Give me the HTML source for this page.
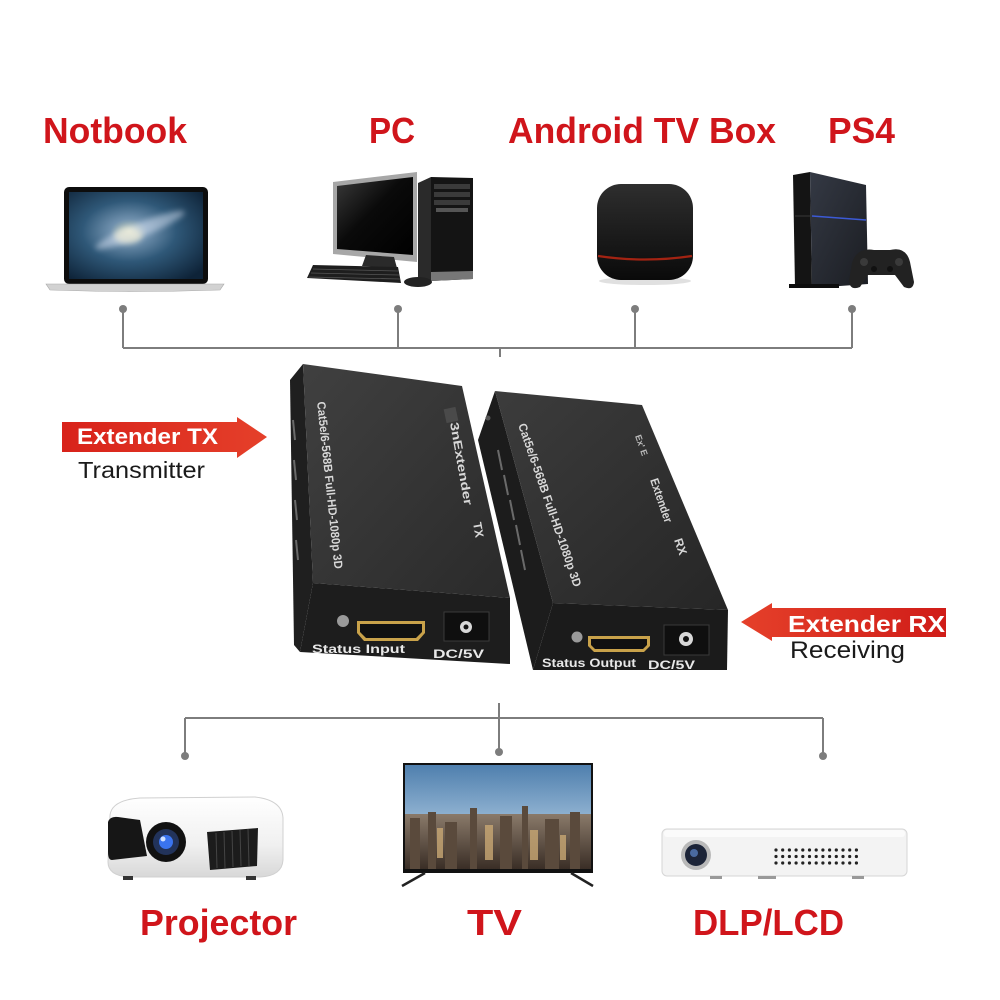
<!DOCTYPE html>
<html><head><meta charset="utf-8"><style>
html,body{margin:0;padding:0;background:#fff;}
svg{display:block;}
</style></head><body>
<svg width="1000" height="1000" viewBox="0 0 1000 1000" xmlns="http://www.w3.org/2000/svg" font-family="'Liberation Sans', Arial, sans-serif">
<defs>
  <radialGradient id="gal" cx="45%" cy="45%" r="70%">
    <stop offset="0" stop-color="#c9d3c0"/>
    <stop offset="0.2" stop-color="#6f90ad"/>
    <stop offset="0.5" stop-color="#2f5878"/>
    <stop offset="1" stop-color="#0e2338"/>
  </radialGradient>
  <linearGradient id="mon" x1="0" y1="0" x2="1" y2="1">
    <stop offset="0" stop-color="#3a3a3a"/><stop offset="0.45" stop-color="#0a0a0a"/><stop offset="1" stop-color="#000"/>
  </linearGradient>
  <linearGradient id="abox" x1="0" y1="0" x2="0" y2="1">
    <stop offset="0" stop-color="#2e2e2e"/><stop offset="0.7" stop-color="#151515"/><stop offset="1" stop-color="#0a0a0a"/>
  </linearGradient>
  <linearGradient id="ps4" x1="0" y1="0" x2="1" y2="1">
    <stop offset="0" stop-color="#343944"/><stop offset="1" stop-color="#1b1d22"/>
  </linearGradient>
  <linearGradient id="topf" x1="0" y1="0" x2="1" y2="1">
    <stop offset="0" stop-color="#404040"/><stop offset="1" stop-color="#2a2a2a"/>
  </linearGradient>
  <linearGradient id="topf2" x1="0" y1="0" x2="1" y2="1">
    <stop offset="0" stop-color="#3c3c3c"/><stop offset="1" stop-color="#262626"/>
  </linearGradient>
  <linearGradient id="redA" x1="0" y1="0" x2="1" y2="0">
    <stop offset="0" stop-color="#d8221a"/><stop offset="1" stop-color="#e5402a"/>
  </linearGradient>
  <linearGradient id="redB" x1="1" y1="0" x2="0" y2="0">
    <stop offset="0" stop-color="#d01c18"/><stop offset="1" stop-color="#e5402a"/>
  </linearGradient>
  <linearGradient id="sky" x1="0" y1="0" x2="0" y2="1">
    <stop offset="0" stop-color="#4f7fae"/><stop offset="0.6" stop-color="#9dbdd8"/><stop offset="1" stop-color="#c9d7e0"/>
  </linearGradient>
  <linearGradient id="city" x1="0" y1="0" x2="0" y2="1">
    <stop offset="0" stop-color="#8a7a6a"/><stop offset="1" stop-color="#3a2e26"/>
  </linearGradient>
  <linearGradient id="proj" x1="0" y1="0" x2="0" y2="1">
    <stop offset="0" stop-color="#ffffff"/><stop offset="0.6" stop-color="#f0f0f0"/><stop offset="1" stop-color="#d8d8d8"/>
  </linearGradient>
  <filter id="blur" x="-50%" y="-50%" width="200%" height="200%"><feGaussianBlur stdDeviation="3"/></filter>
</defs>

<rect width="1000" height="1000" fill="#fff"/>

<!-- Top labels -->
<g fill="#d0151b" font-weight="bold" font-size="36">
  <text x="43" y="143" textLength="144" lengthAdjust="spacingAndGlyphs">Notbook</text>
  <text x="369" y="143" textLength="46" lengthAdjust="spacingAndGlyphs">PC</text>
  <text x="508" y="143" textLength="268" lengthAdjust="spacingAndGlyphs">Android TV Box</text>
  <text x="828" y="143" textLength="67" lengthAdjust="spacingAndGlyphs">PS4</text>
</g>

<!-- Laptop -->
<rect x="64" y="187" width="144" height="97" rx="5" fill="#0d0d0d"/>
<rect x="69" y="192" width="134" height="87" fill="url(#gal)"/>
<ellipse cx="140" cy="230" rx="48" ry="7" transform="rotate(-22 140 230)" fill="#e8f0ff" opacity="0.45" filter="url(#blur)"/>
<ellipse cx="128" cy="236" rx="14" ry="8" fill="#f4f0d8" opacity="0.6" filter="url(#blur)"/>
<path d="M46,284 L224,284 L220,290 Q135,293 50,290 Z" fill="#d2d2d2" stroke="#a8a8a8" stroke-width="0.6"/>

<!-- PC -->
<polygon points="333,182 417,172 417,262 333,254" fill="#a7a7a7"/>
<polygon points="337,186 413,177 413,255 337,249" fill="url(#mon)"/>
<polygon points="366,255 394,257 397,268 362,266" fill="#2a2a2a"/>
<polygon points="313,265 398,267 401,283 307,278" fill="#1e1e1e"/>
<g stroke="#555" stroke-width="0.8">
  <line x1="313" y1="269" x2="398" y2="271"/>
  <line x1="311" y1="273" x2="399" y2="275"/>
  <line x1="309" y1="277" x2="400" y2="279"/>
</g>
<polygon points="418,183 431,177 431,281 418,277" fill="#2a2a2a"/>
<polygon points="431,177 473,178 473,279 431,281" fill="#141414"/>
<rect x="434" y="184" width="36" height="5" fill="#3a3a3a"/>
<rect x="434" y="192" width="36" height="5" fill="#3a3a3a"/>
<rect x="434" y="200" width="36" height="5" fill="#3a3a3a"/>
<rect x="436" y="208" width="32" height="4" fill="#555"/>
<polygon points="431,272 473,271 473,279 431,281" fill="#777"/>
<ellipse cx="418" cy="282" rx="14" ry="5" fill="#222"/>

<!-- Android TV box -->
<ellipse cx="645" cy="281" rx="46" ry="4" fill="#ccc" opacity="0.6"/>
<rect x="597" y="184" width="96" height="96" rx="24" fill="url(#abox)"/>
<path d="M598,256 Q645,263 692,256" stroke="#a32312" stroke-width="2.2" fill="none"/>

<!-- PS4 -->
<polygon points="793,175 810,172 812,288 795,287" fill="#141414"/>
<polygon points="810,172 866,185 868,284 812,288" fill="url(#ps4)"/>
<line x1="812" y1="216" x2="866" y2="220" stroke="#3c5ad6" stroke-width="1.6"/>
<line x1="795" y1="216" x2="810" y2="216" stroke="#333" stroke-width="1.2"/>
<rect x="789" y="284" width="50" height="4" fill="#0d0d0d"/>
<path d="M852,263 Q857,247 874,250 L890,250 Q906,246 910,262 L914,282 Q913,291 904,287 L895,275 L868,275 L860,287 Q850,291 849,281 Z" fill="#222"/>
<circle cx="864" cy="262" r="4" fill="#3a3a3a"/>
<circle cx="899" cy="262" r="4" fill="#3a3a3a"/>
<circle cx="874" cy="269" r="3" fill="#111"/>
<circle cx="890" cy="269" r="3" fill="#111"/>

<!-- Top connectors -->
<g stroke="#7d7d7d" stroke-width="2" fill="none">
  <line x1="123" y1="348" x2="852" y2="348"/>
  <line x1="123" y1="309" x2="123" y2="348"/>
  <line x1="398" y1="309" x2="398" y2="348"/>
  <line x1="635" y1="309" x2="635" y2="348"/>
  <line x1="852" y1="309" x2="852" y2="348"/>
  <line x1="500" y1="348" x2="500" y2="357"/>
</g>
<g fill="#7d7d7d">
  <circle cx="123" cy="309" r="4"/>
  <circle cx="398" cy="309" r="4"/>
  <circle cx="635" cy="309" r="4"/>
  <circle cx="852" cy="309" r="4"/>
</g>

<!-- RX box (behind) -->
<polygon points="495,391 553,603 533,670 478,440" fill="#1c1c1c"/>
<g stroke="#6a6a6a" stroke-width="2">
  <line x1="498" y1="450" x2="502" y2="470"/>
  <line x1="504" y1="475" x2="508" y2="495"/>
  <line x1="510" y1="500" x2="514" y2="520"/>
  <line x1="516" y1="525" x2="520" y2="545"/>
  <line x1="521" y1="550" x2="525" y2="570"/>
</g>
<circle cx="488" cy="418" r="2.5" fill="#555"/>
<polygon points="495,391 642,405 728,610 553,603" fill="url(#topf2)"/>
<polygon points="553,603 728,610 727,670 533,670" fill="#1b1b1b"/>
<text x="518" y="425" transform="rotate(71 518 425)" fill="#d8d8d8" font-size="12" font-weight="bold" textLength="172" lengthAdjust="spacingAndGlyphs">Cat5e/6-568B Full-HD-1080p 3D</text>
<text x="650" y="480" transform="rotate(71 650 480)" fill="#d8d8d8" font-size="12" font-weight="bold" textLength="46" lengthAdjust="spacingAndGlyphs">Extender</text>
<text x="674" y="540" transform="rotate(71 674 540)" fill="#d8d8d8" font-size="12" font-weight="bold">RX</text>
<text x="635" y="436" transform="rotate(71 635 436)" fill="#bbb" font-size="9" font-weight="bold">Ex'  E</text>
<circle cx="577" cy="637" r="5.5" fill="#9a9a9a"/>
<path d="M588,636 L650,636 L650,646 L644,652 L594,652 L588,646 Z" fill="#c9a24a"/>
<path d="M591,639 L647,639 L647,645 L643,649 L595,649 L591,645 Z" fill="#111"/>
<rect x="664" y="625" width="45" height="30" fill="#0f0f0f" stroke="#3a3a3a"/>
<circle cx="686" cy="639" r="7" fill="#d8d8d8"/>
<circle cx="686" cy="639" r="3" fill="#111"/>
<g fill="#e8e8e8" font-size="12" font-weight="bold">
  <text x="542" y="667" textLength="94" lengthAdjust="spacingAndGlyphs">Status Output</text>
  <text x="648" y="669" textLength="47" lengthAdjust="spacingAndGlyphs">DC/5V</text>
</g>

<!-- TX box (front) -->
<polygon points="290,380 303,364 313,583 300,652 294,645" fill="#1f1f1f"/>
<g stroke="#6a6a6a" stroke-width="2">
  <line x1="293" y1="420" x2="295" y2="440"/>
  <line x1="294" y1="460" x2="296" y2="480"/>
  <line x1="295" y1="500" x2="297" y2="520"/>
  <line x1="296" y1="540" x2="298" y2="560"/>
</g>
<polygon points="303,364 462,386 510,598 313,583" fill="url(#topf)"/>
<polygon points="313,583 510,598 510,664 300,652" fill="#1d1d1d"/>
<text x="317" y="402" transform="rotate(84 317 402)" fill="#d8d8d8" font-size="12" font-weight="bold" textLength="168" lengthAdjust="spacingAndGlyphs">Cat5e/6-568B Full-HD-1080p 3D</text>
<rect x="445" y="408" width="12" height="14" fill="#4a4a4a" transform="rotate(-12 451 415)"/>
<text x="450" y="423" transform="rotate(80 450 423)" fill="#d8d8d8" font-size="12" font-weight="bold" textLength="84" lengthAdjust="spacingAndGlyphs">3nExtender</text>
<text x="473" y="523" transform="rotate(80 473 523)" fill="#d8d8d8" font-size="12" font-weight="bold">TX</text>
<circle cx="343" cy="621" r="6" fill="#9a9a9a"/>
<path d="M357,621 L425,621 L425,633 L418,641 L364,641 L357,633 Z" fill="#c9a24a"/>
<path d="M360,624 L422,624 L422,632 L416,638 L366,638 L360,632 Z" fill="#111"/>
<rect x="444" y="612" width="45" height="29" fill="#0f0f0f" stroke="#3a3a3a"/>
<circle cx="466" cy="627" r="6" fill="#d8d8d8"/>
<circle cx="466" cy="627" r="2.5" fill="#111"/>
<g fill="#e8e8e8" font-size="12" font-weight="bold">
  <text x="312" y="653" textLength="93" lengthAdjust="spacingAndGlyphs">Status Input</text>
  <text x="433" y="658" textLength="51" lengthAdjust="spacingAndGlyphs">DC/5V</text>
</g>

<!-- TX arrow -->
<polygon points="62,422 237,422 237,417 267,437 237,458 237,452 62,452" fill="url(#redA)"/>
<text x="77" y="444" fill="#fff" font-size="22" font-weight="bold" textLength="141" lengthAdjust="spacingAndGlyphs">Extender TX</text>
<text x="78" y="478" fill="#1a1a1a" font-size="23" textLength="127" lengthAdjust="spacingAndGlyphs">Transmitter</text>

<!-- RX arrow -->
<polygon points="741,622 772,603 772,608 946,608 946,637 772,637 772,641" fill="url(#redB)"/>
<text x="788" y="632" fill="#fff" font-size="23" font-weight="bold" textLength="157" lengthAdjust="spacingAndGlyphs">Extender RX</text>
<text x="790" y="658" fill="#1a1a1a" font-size="24" textLength="115" lengthAdjust="spacingAndGlyphs">Receiving</text>

<!-- Bottom connectors -->
<g stroke="#7d7d7d" stroke-width="2" fill="none">
  <line x1="185" y1="718" x2="823" y2="718"/>
  <line x1="185" y1="718" x2="185" y2="756"/>
  <line x1="823" y1="718" x2="823" y2="756"/>
  <line x1="499" y1="703" x2="499" y2="752"/>
</g>
<g fill="#7d7d7d">
  <circle cx="185" cy="756" r="4"/>
  <circle cx="823" cy="756" r="4"/>
  <circle cx="499" cy="752" r="4"/>
</g>

<!-- Projector -->
<path d="M110,815 Q112,800 140,798 L255,797 Q282,800 283,818 L283,860 Q282,876 260,877 L130,877 Q108,876 108,862 Z" fill="url(#proj)" stroke="#d0d0d0"/>
<path d="M108,822 Q110,816 118,817 L140,820 L147,856 L112,860 Q108,860 108,852 Z" fill="#161616"/>
<path d="M207,832 L258,828 L257,866 L210,870 Z" fill="#1c1c1c"/>
<g stroke="#444" stroke-width="1">
  <line x1="216" y1="833" x2="217" y2="868"/>
  <line x1="224" y1="832" x2="225" y2="868"/>
  <line x1="232" y1="831" x2="233" y2="867"/>
  <line x1="240" y1="830" x2="241" y2="866"/>
  <line x1="248" y1="829" x2="249" y2="866"/>
</g>
<circle cx="166" cy="842" r="20" fill="#111"/>
<circle cx="166" cy="842" r="13" fill="#22335a"/>
<circle cx="166" cy="842" r="7" fill="#3d7bff" opacity="0.9"/>
<circle cx="163" cy="839" r="2.5" fill="#cfe0ff"/>
<rect x="123" y="876" width="10" height="4" fill="#333"/>
<rect x="246" y="876" width="10" height="4" fill="#333"/>

<!-- TV -->
<rect x="403" y="763" width="190" height="110" fill="#111"/>
<rect x="405" y="765" width="186" height="104" fill="url(#sky)"/>
<rect x="405" y="814" width="186" height="55" fill="url(#city)"/>
<g fill="#5a4a3c">
  <rect x="410" y="818" width="10" height="51"/>
  <rect x="428" y="812" width="8" height="57"/>
  <rect x="445" y="822" width="12" height="47"/>
  <rect x="470" y="808" width="7" height="61"/>
  <rect x="500" y="816" width="12" height="53"/>
  <rect x="522" y="806" width="6" height="63"/>
  <rect x="545" y="819" width="14" height="50"/>
  <rect x="570" y="812" width="10" height="57"/>
</g>
<g fill="#c9a874" opacity="0.8">
  <rect x="437" y="828" width="6" height="30"/>
  <rect x="485" y="825" width="8" height="35"/>
  <rect x="530" y="830" width="8" height="30"/>
  <rect x="560" y="835" width="6" height="25"/>
</g>
<line x1="425" y1="873" x2="402" y2="886" stroke="#222" stroke-width="2.5"/>
<line x1="571" y1="873" x2="593" y2="886" stroke="#222" stroke-width="2.5"/>

<!-- DLP -->
<rect x="662" y="829" width="245" height="47" rx="5" fill="#f3f3f3" stroke="#d6d6d6"/>
<rect x="664" y="830" width="241" height="7" rx="3" fill="#fbfbfb"/>
<circle cx="696" cy="855" r="15" fill="#b9b9b9"/>
<circle cx="696" cy="855" r="11" fill="#1c2438"/>
<circle cx="694" cy="853" r="4" fill="#4a6aa0"/>
<g fill="#222">
  <circle cx="776" cy="850" r="1.6"/><circle cx="782.7" cy="850" r="1.6"/><circle cx="789.4" cy="850" r="1.6"/><circle cx="796.1" cy="850" r="1.6"/><circle cx="802.8" cy="850" r="1.6"/><circle cx="809.5" cy="850" r="1.6"/><circle cx="816.2" cy="850" r="1.6"/><circle cx="822.9" cy="850" r="1.6"/><circle cx="829.6" cy="850" r="1.6"/><circle cx="836.3" cy="850" r="1.6"/><circle cx="843" cy="850" r="1.6"/><circle cx="849.7" cy="850" r="1.6"/><circle cx="856.4" cy="850" r="1.6"/>
  <circle cx="776" cy="856.5" r="1.6"/><circle cx="782.7" cy="856.5" r="1.6"/><circle cx="789.4" cy="856.5" r="1.6"/><circle cx="796.1" cy="856.5" r="1.6"/><circle cx="802.8" cy="856.5" r="1.6"/><circle cx="809.5" cy="856.5" r="1.6"/><circle cx="816.2" cy="856.5" r="1.6"/><circle cx="822.9" cy="856.5" r="1.6"/><circle cx="829.6" cy="856.5" r="1.6"/><circle cx="836.3" cy="856.5" r="1.6"/><circle cx="843" cy="856.5" r="1.6"/><circle cx="849.7" cy="856.5" r="1.6"/><circle cx="856.4" cy="856.5" r="1.6"/>
  <circle cx="776" cy="863" r="1.6"/><circle cx="782.7" cy="863" r="1.6"/><circle cx="789.4" cy="863" r="1.6"/><circle cx="796.1" cy="863" r="1.6"/><circle cx="802.8" cy="863" r="1.6"/><circle cx="809.5" cy="863" r="1.6"/><circle cx="816.2" cy="863" r="1.6"/><circle cx="822.9" cy="863" r="1.6"/><circle cx="829.6" cy="863" r="1.6"/><circle cx="836.3" cy="863" r="1.6"/><circle cx="843" cy="863" r="1.6"/><circle cx="849.7" cy="863" r="1.6"/><circle cx="856.4" cy="863" r="1.6"/>
</g>
<rect x="710" y="876" width="12" height="3" fill="#999"/>
<rect x="758" y="876" width="18" height="3" fill="#999"/>
<rect x="852" y="876" width="12" height="3" fill="#999"/>

<!-- Bottom labels -->
<g fill="#d0151b" font-weight="bold" font-size="36">
  <text x="140" y="935" textLength="157" lengthAdjust="spacingAndGlyphs">Projector</text>
  <text x="467" y="935" textLength="55" lengthAdjust="spacingAndGlyphs">TV</text>
  <text x="693" y="935" textLength="151" lengthAdjust="spacingAndGlyphs">DLP/LCD</text>
</g>
</svg>
</body></html>
